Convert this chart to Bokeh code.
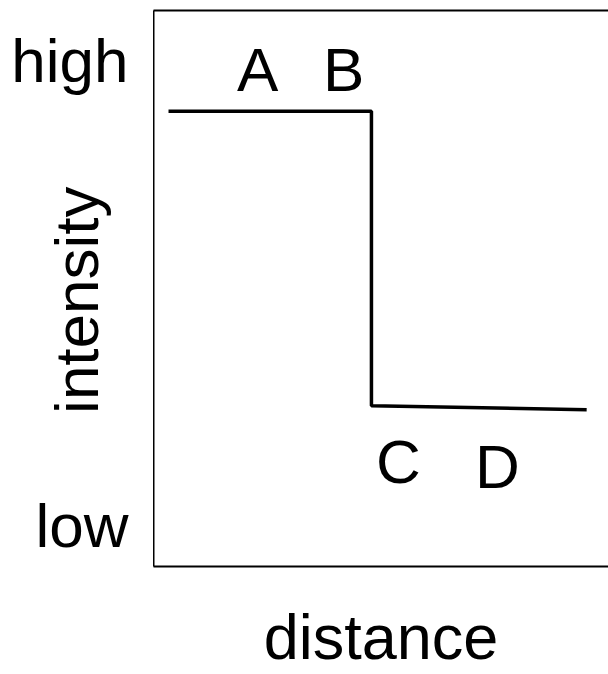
import math
from bokeh.plotting import figure
from bokeh.layouts import row
from bokeh.models import LinearAxis, FixedTicker, Range1d
from bokeh.core.properties import value
from bokeh.embed import file_html
from bokeh.resources import INLINE

# ---- data ----
level_values = [0.73, 9.10]
level_labels = ["low", "high"]
profile_x = [0.33, 4.79, 4.79, 9.52]
profile_y = [8.19, 8.19, 2.89, 2.82]
point_labels = ["A", "B", "C", "D"]
point_x = [2.29, 4.18, 5.38, 7.56]
point_y = [8.94, 8.94, 1.88, 1.79]
x_title = "distance"
y_title = "intensity"

FONT = "Liberation Sans"
FS = "62px"
TOP, BOTTOM = 10, 107

y_range = Range1d(0, 10)

# ---- left strip: y-axis texts ----
left = figure(width=153, height=674, output_backend="svg", toolbar_location=None,
              x_range=Range1d(-3.36, 0), y_range=y_range,
              x_axis_location=None, y_axis_location=None,
              min_border_left=0, min_border_right=0,
              min_border_top=TOP, min_border_bottom=BOTTOM)
left.outline_line_color = None
left.grid.visible = False
left.text(x=[-0.55] * len(level_values), y=level_values, text=level_labels,
          text_align="right", text_baseline="alphabetic",
          text_font=value(FONT), text_font_size=FS, text_color="black")
left.text(x=[-1.70], y=[4.79], text=[y_title], angle=math.pi / 2,
          text_align="center", text_baseline="alphabetic",
          text_font=value(FONT), text_font_size=FS, text_color="black")

# ---- main plot ----
p = figure(width=455, height=674, output_backend="svg", toolbar_location=None,
           x_range=Range1d(0, 10), y_range=y_range,
           x_axis_location=None, y_axis_location=None,
           min_border_left=0, min_border_right=0, min_border_top=TOP - 1,
           min_border_bottom=BOTTOM)
p.outline_line_color = None
p.grid.visible = False


def frame_axis(ax):
    ax.axis_line_width = 2
    ax.axis_line_color = "black"
    ax.major_tick_line_color = None
    ax.minor_tick_line_color = None
    ax.major_tick_out = 0
    ax.major_tick_in = 0
    ax.major_label_text_font_size = "0px"
    ax.major_label_standoff = 0
    return ax


p.add_layout(frame_axis(LinearAxis(ticker=FixedTicker(ticks=[]))), "left")
p.add_layout(frame_axis(LinearAxis(ticker=FixedTicker(ticks=[]))), "above")
xax = frame_axis(LinearAxis(ticker=FixedTicker(ticks=[])))
xax.axis_label = x_title
xax.axis_label_text_font = FONT
xax.axis_label_text_font_size = "63px"
xax.axis_label_text_font_style = "normal"
xax.axis_label_text_color = "black"
xax.axis_label_standoff = 35
p.add_layout(xax, "below")

# intensity profile
p.line(profile_x, profile_y, line_color="black", line_width=3.5)

# point letters
p.text(x=point_x, y=point_y, text=point_labels, text_align="center",
       text_baseline="alphabetic", text_font=value(FONT), text_font_size=FS,
       text_color="black")

layout = row(left, p, spacing=0)
open("out.html", "w").write(file_html(layout, INLINE))
